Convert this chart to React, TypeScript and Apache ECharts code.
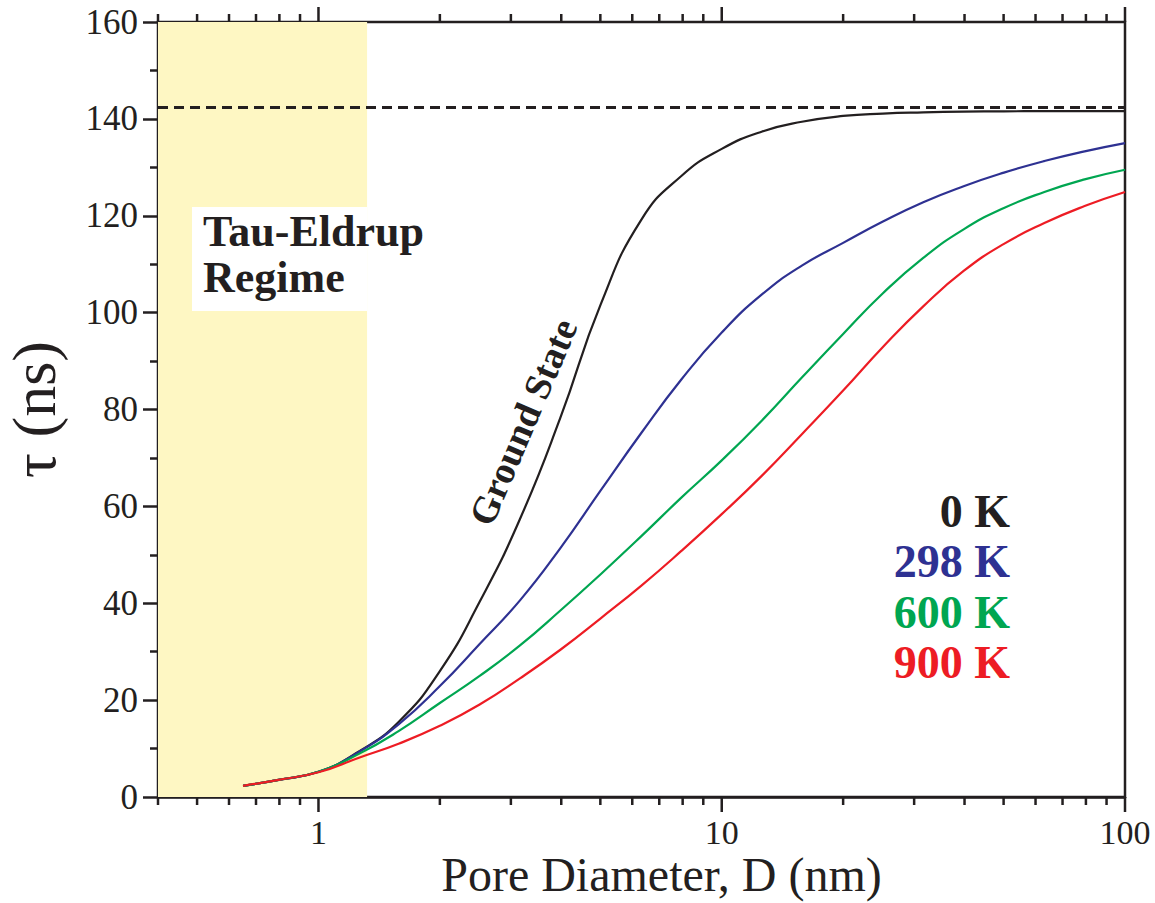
import React, { useEffect, useRef } from "react";
import * as echarts from "echarts";

// Pore diameters (nm), spaced roughly every tenth of a decade
const diameters = [
  0.65, 0.79, 1.0, 1.26, 1.58, 2.0, 2.51, 3.16, 3.98, 5.01, 6.31, 7.94, 10,
  12.6, 15.8, 20, 25.1, 31.6, 39.8, 50.1, 63.1, 79.4, 100,
];

// o-Ps lifetime tau (ns) for each temperature
const tau0K = [
  2.3, 3.5, 5.2, 9.4, 15.5, 26.0, 40.3, 57.4, 78.3, 101.7, 119.1, 128.2, 133.8,
  137.4, 139.4, 140.6, 141.1, 141.35, 141.5, 141.55, 141.6, 141.6, 141.6,
];
const tau298K = [
  2.3, 3.5, 5.2, 9.3, 15.0, 22.9, 31.6, 40.6, 51.4, 63.3, 75.1, 86.2, 95.9,
  103.8, 109.7, 114.4, 118.8, 122.8, 126.1, 128.9, 131.3, 133.3, 135.0,
];
const tau600K = [
  2.3, 3.5, 5.2, 8.9, 13.6, 19.4, 25.0, 31.3, 38.5, 46.0, 53.8, 61.8, 69.5,
  77.8, 86.6, 95.6, 104.0, 111.3, 117.2, 121.6, 124.9, 127.5, 129.5,
];
const tau900K = [
  2.3, 3.5, 5.1, 8.1, 11.0, 14.7, 19.1, 24.5, 30.4, 36.9, 43.6, 50.8, 58.4,
  66.4, 74.9, 83.9, 92.9, 101.3, 108.6, 114.2, 118.5, 122.0, 124.9,
];

const seriesNames = ["0 K", "298 K", "600 K", "900 K"];
const seriesColors = ["#231f20", "#2e3192", "#00a651", "#ed1c24"];

// Vacuum lifetime of o-Ps (ns)
const vacuumLifetime = [142.5];
// Tau-Eldrup regime span on the diameter axis (nm)
const tauEldrupRange = [0.4, 1.32];

// Axis ranges and ticks
const xRange = [0.4, 100];
const yRange = [0, 160];
const yInterval = 20;
const xMajorTicks = [1, 10, 100];
const xMinorTicks = [
  0.4, 0.5, 0.6, 0.7, 0.8, 0.9, 2, 3, 4, 5, 6, 7, 8, 9, 20, 30, 40, 50, 60, 70,
  80, 90,
];

const ink = "#231f20";
const serif = '"Liberation Serif", "Times New Roman", Times, serif';

export default function App() {
  const ref = useRef<HTMLDivElement>(null);

  useEffect(() => {
    if (!ref.current) return;
    const chart = echarts.init(ref.current, undefined, { renderer: "svg" });

    const curves = [tau0K, tau298K, tau600K, tau900K];
    const lineSeries = curves.map((vals, i) => {
      const s: any = {
        name: seriesNames[i],
        type: "line",
        data: diameters.map((d, k) => [d, vals[k]]),
        showSymbol: false,
        smooth: 0.5,
        lineStyle: { color: seriesColors[i], width: 2.2 },
        itemStyle: { color: seriesColors[i] },
        z: 3 + i,
        silent: true,
      };
      if (i === 0) {
        s.markArea = {
          silent: true,
          itemStyle: { color: "#fef7c3" },
          data: [
            [
              { xAxis: tauEldrupRange[0], yAxis: yRange[0] },
              { xAxis: tauEldrupRange[1], yAxis: yRange[1] },
            ],
          ],
        };
        s.markLine = {
          silent: true,
          symbol: "none",
          label: { show: false },
          lineStyle: { color: ink, width: 3, type: [10, 6] },
          data: vacuumLifetime.map((v) => ({ yAxis: v })),
        };
      }
      return s;
    });

    // Log-axis ticks on the bottom and top edges
    const tickSeries: any = {
      type: "custom",
      silent: true,
      clip: false,
      z: 10,
      data: [
        ...xMajorTicks.map((v) => [v, 1]),
        ...xMinorTicks.map((v) => [v, 0]),
      ],
      encode: { x: 0, y: 1 },
      renderItem: (_params: any, api: any) => {
        const v = api.value(0);
        const len = api.value(1) ? 15 : 8;
        const b = api.coord([v, yRange[0]]);
        const t = api.coord([v, yRange[1]]);
        const style = { stroke: ink, lineWidth: 2.5 };
        return {
          type: "group",
          children: [
            { type: "line", shape: { x1: b[0], y1: b[1], x2: b[0], y2: b[1] + len }, style },
            { type: "line", shape: { x1: t[0], y1: t[1], x2: t[0], y2: t[1] - len }, style },
          ],
        };
      },
    };

    chart.setOption({
      animation: false,
      backgroundColor: "#ffffff",
      grid: {
        left: 158,
        right: 30,
        top: 22,
        bottom: 106,
        show: true,
        borderColor: ink,
        borderWidth: 2.5,
        containLabel: false,
        outerBoundsMode: "none",
      },
      xAxis: {
        type: "log",
        logBase: 10,
        min: xRange[0],
        max: xRange[1],
        name: "Pore Diameter, D (nm)",
        nameLocation: "middle",
        nameGap: 53,
        nameMoveOverlap: false,
        nameTextStyle: {
          fontFamily: serif,
          fontSize: 48,
          color: ink,
          padding: [0, 0, 0, 40],
        },
        axisLine: { show: true, lineStyle: { color: ink, width: 2.5 } },
        axisTick: { show: false },
        minorTick: { show: false },
        splitLine: { show: false },
        axisLabel: {
          fontFamily: serif,
          fontSize: 34,
          color: ink,
          margin: 18,
          formatter: (v: number) =>
            xMajorTicks.some((m) => Math.abs(m - v) < 1e-6) ? String(v) : "",
        },
      },
      yAxis: {
        type: "value",
        min: yRange[0],
        max: yRange[1],
        interval: yInterval,
        name: "τ (ns)",
        nameLocation: "middle",
        nameGap: 93,
        nameMoveOverlap: false,
        nameTextStyle: { fontFamily: serif, fontSize: 62, color: ink },
        axisLine: { show: true, lineStyle: { color: ink, width: 2.5 } },
        axisTick: { show: true, inside: false, length: 15, lineStyle: { color: ink, width: 2.5 } },
        minorTick: { show: true, splitNumber: 2, length: 8, lineStyle: { color: ink, width: 2.5 } },
        splitLine: { show: false },
        axisLabel: { fontFamily: serif, fontSize: 35, color: ink, margin: 20 },
      },
      series: [...lineSeries, tickSeries],
      graphic: [
        {
          type: "rect",
          shape: { x: 192, y: 207, width: 175, height: 104 },
          style: { fill: "#ffffff" },
          z: 5,
        },
        {
          type: "text",
          x: 203,
          y: 254,
          z: 6,
          style: {
            text: "Tau-Eldrup\nRegime",
            fontFamily: serif,
            fontWeight: "bold",
            fontSize: 44,
            lineHeight: 46,
            fill: ink,
            align: "left",
            verticalAlign: "middle",
          },
        },
        {
          type: "text",
          x: 523,
          y: 422,
          rotation: (66.8 * Math.PI) / 180,
          z: 6,
          style: {
            text: "Ground State",
            fontFamily: serif,
            fontWeight: "bold",
            fontSize: 38,
            fill: ink,
            align: "center",
            verticalAlign: "middle",
          },
        },
        ...seriesNames.map((n, i) => ({
          type: "text",
          x: 1010,
          y: 511 + i * 50.5,
          z: 6,
          style: {
            text: n,
            fontFamily: serif,
            fontWeight: "bold",
            fontSize: 46,
            fill: seriesColors[i],
            align: "right",
            verticalAlign: "middle",
          },
        })),
      ],
    });

    return () => chart.dispose();
  }, []);

  return (
    <div
      ref={ref}
      style={{ position: "fixed", left: 0, top: 0, width: 1155, height: 903, background: "#fff" }}
    />
  );
}
